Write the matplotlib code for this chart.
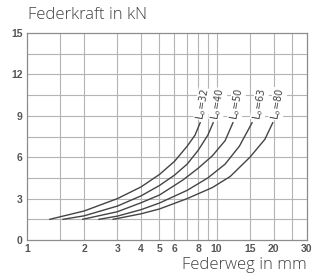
import matplotlib
matplotlib.use('Agg')
import matplotlib.pyplot as plt
from matplotlib.ticker import FixedLocator, NullFormatter

# Kennlinien (Federweg mm, Federkraft kN)
labels = ['L$_o$=32', 'L$_o$=40', 'L$_o$=50', 'L$_o$=63', 'L$_o$=80']
weg_32 = [1.32, 2.0, 3.0, 4.0, 5.0, 6.0, 7.0, 7.7, 8.2]
kraft_32 = [1.5, 2.1, 3.0, 3.85, 4.75, 5.7, 6.8, 7.6, 8.5]
weg_40 = [1.55, 2.0, 3.0, 4.0, 5.0, 6.0, 7.0, 8.0, 9.0, 9.6]
kraft_40 = [1.5, 1.75, 2.46, 3.2, 3.95, 4.7, 5.5, 6.5, 7.6, 8.5]
weg_50 = [1.97, 3.0, 4.0, 5.0, 6.65, 8.0, 9.5, 11.1, 12.2]
kraft_50 = [1.5, 2.05, 2.7, 3.26, 4.35, 5.2, 6.1, 7.2, 8.5]
weg_63 = [2.4, 3.0, 4.0, 5.0, 7.0, 9.0, 11.1, 13.2, 15.4]
kraft_63 = [1.5, 1.73, 2.2, 2.68, 3.6, 4.5, 5.5, 6.8, 8.5]
weg_80 = [2.85, 4.0, 5.0, 7.0, 9.5, 11.8, 15.0, 18.0, 19.8]
kraft_80 = [1.5, 1.9, 2.25, 3.0, 3.8, 4.6, 6.0, 7.3, 8.5]

label_x = [8.5, 10.2, 12.8, 16.9, 21.1]
label_y = [9.85, 9.85, 9.85, 9.85, 9.85]

x_ticks = [1, 2, 3, 4, 5, 6, 8, 10, 15, 20, 30]
x_grid = [1.5, 2, 3, 4, 5, 6, 7, 8, 9, 10, 15, 20, 25]
y_ticks = [0, 3, 6, 9, 12, 15]
y_grid = [1.5, 3, 4.5, 6, 7.5, 9, 10.5, 12, 13.5]

fig = plt.figure(figsize=(3.16, 2.8), dpi=100)
ax = fig.add_axes([0.0854, 0.1429, 0.886, 0.739])

for xs, ys in [(weg_32, kraft_32), (weg_40, kraft_40), (weg_50, kraft_50),
               (weg_63, kraft_63), (weg_80, kraft_80)]:
    ax.plot(xs, ys, color='#444444', lw=1.0, zorder=3)

for lx, ly, lab in zip(label_x, label_y, labels):
    ax.text(lx, ly, lab, rotation=80, ha='center', va='center', fontsize=7,
            color='#444444', zorder=4,
            bbox=dict(facecolor='white', edgecolor='none', pad=0.3))

ax.set_xscale('log')
ax.set_xlim(1, 30)
ax.set_ylim(0, 15)
ax.xaxis.set_major_locator(FixedLocator(x_ticks))
ax.xaxis.set_minor_locator(FixedLocator([]))
ax.xaxis.set_minor_formatter(NullFormatter())
ax.set_xticklabels([str(t) for t in x_ticks])
ax.set_yticks(y_ticks)

for g in x_grid:
    ax.axvline(g, color='#b4b4b4', lw=0.8, zorder=1)
for g in y_grid:
    ax.axhline(g, color='#b4b4b4', lw=0.8, zorder=1)

ax.tick_params(length=0, labelsize=7.5, labelcolor='#555555', pad=3)
for lab in ax.get_xticklabels() + ax.get_yticklabels():
    lab.set_fontweight('bold')
    lab.set_family('Liberation Sans')
for s in ax.spines.values():
    s.set_color('#8c8c8c')
    s.set_linewidth(0.9)

fig.text(0.089, 0.945, 'Federkraft in kN', fontsize=12, family='Open Sans',
         fontweight='light', color='#404040', ha='left', va='center')
fig.text(0.972, 0.052, 'Federweg in mm', fontsize=12, family='Open Sans',
         fontweight='light', color='#404040', ha='right', va='center')

fig.savefig('out.png', dpi=100)
